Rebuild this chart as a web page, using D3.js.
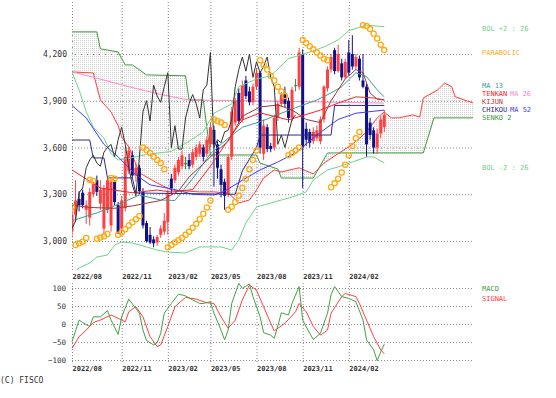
<!DOCTYPE html>
<html>
<head>
<meta charset="utf-8">
<script src="https://cdn.jsdelivr.net/npm/d3@7"></script>
<style>
  body { margin: 0; background: #fff; }
  svg { display: block; }
  text { font-family: "DejaVu Sans Mono", monospace; }
  .grid line { stroke: #888; stroke-dasharray: 1,2; }
</style>
</head>
<body>
<div id="chart"></div>
<script>
// ---- data (weekly, index 0 = first week of 2022/08) ----
const months = ['2022/08', '2022/11', '2023/02', '2023/05', '2023/08', '2023/11', '2024/02'];
const monthIdx = [0, 14, 27, 39, 52, 65, 78];
const priceTicks = [3000, 3300, 3600, 3900, 4200];
const macdTicks = [-100, -50, 0, 50, 100];

const open = [3060,3170,3270,3310,3200,3150,3300,3390,3240,3080,3200,3100,3380,3230,3080,3210,3450,3550,3420,3470,
  3315,3115,3040,3010,2990,3040,3060,3120,3400,3390,3440,3480,3500,3520,3490,3540,3560,3600,3560,3620,
  3713,3620,3460,3380,3300,3540,3760,3950,3780,4030,3960,3890,3990,4080,3560,3730,3610,3600,3790,3880,
  3950,3900,3790,4000,3990,4200,3720,3700,3640,3660,3640,3780,3980,4100,4225,4090,4140,4050,4210,4200,
  4120,4170,4030,3990,3760,3710,3600,3690,3730];
const high = [3240,3390,3320,3330,3260,3340,3380,3420,3390,3360,3410,3395,3390,3250,3290,3600,3610,3580,3500,3490,
  3340,3130,3090,3030,3040,3100,3180,3330,3430,3490,3540,3580,3540,3560,3590,3620,3640,3620,3670,3760,
  3740,3640,3490,3400,3560,3860,3920,3980,4030,4060,3990,4010,4110,4090,3780,3750,3630,3810,3900,3955,
  3990,3920,3990,4040,4240,4230,3760,3720,3730,3740,3800,4000,4120,4200,4240,4260,4170,4170,4290,4320,
  4200,4190,4200,4010,3790,3730,3720,3800,3840];
const low = [3020,3120,3190,3210,3110,3100,3280,3290,3200,3040,3180,3060,3230,3045,3050,3190,3430,3400,3380,3300,
  3080,2990,2980,2960,2970,3020,3040,3040,3300,3370,3420,3460,3460,3460,3470,3520,3540,3510,3540,3600,
  3350,3400,3280,3200,3280,3520,3740,3750,3760,3910,3870,3870,3970,3560,3520,3570,3570,3580,3770,3860,
  3860,3760,3770,3960,3970,3340,3610,3600,3620,3640,3620,3760,3960,4080,4070,4080,4030,4040,4060,4100,
  4100,4030,3980,3540,3650,3560,3560,3660,3700];
const close = [3170,3260,3230,3230,3230,3315,3370,3315,3330,3340,3390,3380,3250,3050,3260,3540,3580,3420,3470,3320,
  3100,3000,2990,2985,3025,3080,3130,3310,3340,3470,3520,3550,3500,3480,3570,3600,3620,3540,3650,3730,
  3620,3470,3360,3290,3540,3830,3900,3770,4000,3930,3890,3990,4080,3600,3740,3590,3590,3790,3880,3940,
  3880,3790,3970,4000,4210,3600,3650,3630,3700,3710,3780,3990,4100,4180,4090,4200,4050,4150,4080,4120,
  4180,4050,3990,3620,3680,3600,3690,3780,3810];

const parabolic = [3218,2974,2985,2995,3020,3392,3385,3015,3022,3030,3045,3405,3400,3040,3055,3075,3100,3120,3140,3160,
  3600,3584,3565,3540,3520,3500,3460,2960,2975,2990,3005,3020,3040,3060,3085,3110,3140,3175,3215,3260,
  3780,3770,3760,3745,3200,3220,3250,3290,3340,3400,3460,3520,3580,4160,4130,4100,4060,4030,3990,3960,
  3930,3550,3565,3580,3600,4290,4270,4250,4230,4210,4190,4170,4160,3345,3370,3400,3440,3490,3550,3610,
  3660,3700,4385,4380,4360,4330,4300,4260,4225];

// lines: [week index, value]
const bolUpper = [[0,4085],[2,3970],[4,3830],[6,3730],[9,3660],[11,3560],[13,3520],[16,3530],[21,3555],[28,3575],
  [33,3640],[37,3700],[40,3820],[45,3880],[47,3990],[52,4040],[56,4060],[61,4170],[66,4205],[71,4245],
  [75,4290],[78,4350],[83,4385],[88,4375]];
const bolLower = [[0,2790],[2,2827],[5,2859],[7,2897],[10,2910],[12,2974],[14,2994],[17,2987],[21,2962],[24,2942],
  [27,2929],[32,2923],[36,2962],[42,2962],[45,2942],[47,3006],[49,3116],[52,3218],[56,3244],[59,3263],
  [62,3282],[66,3315],[68,3392],[72,3456],[75,3475],[79,3507],[83,3539],[85,3540],[88,3500]];
const ma13 = [[0,3130],[7,3180],[14,3245],[19,3295],[25,3263],[29,3260],[34,3400],[39,3560],[44,3660],[48,3730],
  [53,3765],[59,3820],[63,3855],[69,3905],[73,3950],[76,3990],[80,4080],[83,4055],[86,3970],[88,3925]];
const ma26 = [[0,3870],[4,3790],[9,3620],[13,3540],[18,3425],[22,3360],[28,3335],[34,3300],[40,3295],[43,3320],
  [48,3390],[53,3456],[58,3507],[63,3565],[69,3680],[75,3780],[80,3820],[88,3840]];
const ma52 = [[0,4085],[7,4045],[16,3990],[25,3940],[33,3905],[50,3900],[63,3895],[88,3885]];
const tenkan = [[0,3456],[8,3340],[17,3310],[24,3327],[28,3314],[34,3330],[39,3480],[44,3648],[48,3777],[53,3822],
  [61,3777],[70,3840],[75,3885],[80,3925],[85,3918],[88,3905]];
const kijunLine = [[0,3230],[5,3215],[12,3210],[17,3225],[25,3260],[30,3320],[33,3411],[40,3560],[44,3640],[48,3800],
  [53,3860],[58,3873],[62,3841],[66,3780],[70,3760],[73,3900],[77,4040],[80,4100],[82,4080],[84,3950],[86,3910],[88,3905]];
const kijunStep = [[0,3648],[5,3648],[6,3533],[9,3533],[10,3405],[17,3405],[18,3308],[46,3300],[48,3450],[52,3600],
  [53,3680],[73,3680],[74,3870],[88,3870]];
const senko1 = [[0,4085],[6,4078],[8,3905],[11,3828],[13,3740],[14,3668],[16,3603],[19,3437],[24,3372],[28,3327],
  [36,3315],[40,3315],[44,3308],[47,3244],[50,3263],[52,3327],[54,3404],[57,3456],[59,3443],[64,3470],
  [68,3430],[71,3500],[75,3560],[79,3620],[83,3700],[86,3790],[88,3828],[90,3790],[92,3790],[96,3809],
  [98,3796],[99,3918],[103,3969],[105,4014],[107,3990],[108,3925],[113,3886]];
const senko2 = [[0,4342],[7,4342],[8,4233],[13,4213],[15,4130],[17,4130],[21,4066],[32,4060],[33,3905],[37,3905],
  [38,3730],[39,3552],[52,3552],[53,3500],[58,3462],[59,3404],[68,3404],[72,3565],[99,3565],[102,3790],[113,3790]];
const chikouShift = 25;

const macd = [[0,-49],[2,11],[3,4],[5,-7],[6,20],[8,20],[10,37],[11,11],[13,-29],[14,20],[16,69],[17,56],[19,30],
  [20,-17],[21,-46],[23,-58],[24,-52],[25,-26],[26,30],[28,57],[30,83],[32,78],[34,67],[36,57],[37,57],[39,62],
  [40,30],[42,-17],[43,-44],[44,-17],[45,57],[47,113],[48,99],[50,111],[51,76],[53,20],[54,-24],[56,-31],[57,-40],
  [58,-5],[59,31],[61,25],[62,57],[64,104],[65,11],[67,-26],[68,-43],[70,-26],[72,30],[73,81],[74,104],[76,76],
  [78,71],[80,62],[82,11],[83,-44],[85,-72],[86,-102],[87,-77],[88,-56]];
const signal = [[0,-68],[2,-35],[4,-17],[6,4],[8,11],[11,25],[13,16],[15,6],[16,34],[18,48],[20,20],[22,-35],
  [24,-63],[25,-58],[27,-7],[29,48],[32,74],[35,69],[38,59],[40,57],[42,20],[44,-12],[46,11],[48,67],[50,108],
  [52,94],[54,48],[56,2],[57,-19],[60,2],[63,34],[64,57],[66,34],[68,-7],[70,-31],[72,-17],[73,30],[76,76],
  [77,85],[80,76],[81,57],[83,11],[85,-35],[87,-72],[88,-83]];

// ---- layout ----
const W = 556, H = 398;
const svg = d3.select('#chart').append('svg').attr('width', W).attr('height', H);

const x = d3.scaleLinear().domain([0, 113]).range([72, 473]);
const y = d3.scaleLinear().domain([3000, 4200]).range([241, 54]);
const yM = d3.scaleLinear().domain([-100, 100]).range([360, 288]);

svg.append('clipPath').attr('id', 'clipMain')
  .append('rect').attr('x', 72).attr('y', 0).attr('width', 401).attr('height', 270);

// hatch for the cloud: thin dotted verticals
const pat = svg.append('defs').append('pattern')
  .attr('id', 'hatch').attr('patternUnits', 'userSpaceOnUse')
  .attr('width', 2).attr('height', 2);
pat.append('rect').attr('width', 1).attr('height', 1).attr('fill', '#d2d2d2');

// Grid: main
svg.append('g').attr('class', 'grid')
  .attr('transform', 'translate(72,0)')
  .call(d3.axisLeft(y).tickValues(priceTicks).tickSize(-401).tickFormat(''))
  .call(g => g.select('.domain').remove());
svg.append('g').attr('class', 'grid')
  .attr('transform', 'translate(0,270)')
  .call(d3.axisBottom(x).tickValues(monthIdx).tickSize(-268).tickFormat(''))
  .call(g => g.select('.domain').remove());

// Grid: MACD
svg.append('g').attr('class', 'grid')
  .attr('transform', 'translate(72,0)')
  .call(d3.axisLeft(yM).tickValues(macdTicks).tickSize(-401).tickFormat(''))
  .call(g => g.select('.domain').remove());
svg.append('g').attr('class', 'grid')
  .attr('transform', 'translate(0,362)')
  .call(d3.axisBottom(x).tickValues(monthIdx).tickSize(-80).tickFormat(''))
  .call(g => g.select('.domain').remove());

// Price labels
svg.append('g')
  .attr('transform', 'translate(67,0)')
  .call(d3.axisLeft(y).tickValues(priceTicks).tickSize(0).tickPadding(0).tickFormat(d3.format(',')))
  .call(g => g.select('.domain').remove())
  .selectAll('text').attr('font-size', 8).attr('fill', '#333').attr('font-family', '"DejaVu Sans Mono", monospace');

// MACD labels
svg.append('g')
  .attr('transform', 'translate(66,0)')
  .call(d3.axisLeft(yM).tickValues(macdTicks).tickSize(0).tickPadding(0))
  .call(g => g.select('.domain').remove())
  .selectAll('text').attr('font-size', 7.5).attr('fill', '#333').attr('font-family', '"DejaVu Sans Mono", monospace');

// Month labels (two rows)
[279, 371].forEach(yy => {
  svg.append('g')
    .attr('transform', `translate(0,${yy})`)
    .call(d3.axisBottom(x).tickValues(monthIdx).tickSize(0).tickPadding(0).tickFormat((d, i) => months[i]))
    .call(g => g.select('.domain').remove())
    .selectAll('text')
    .attr('y', 0).attr('dy', 0)
    .attr('text-anchor', 'start')
    .attr('font-size', 7).attr('font-weight', 'bold').attr('fill', '#333')
    .attr('font-family', '"DejaVu Sans Mono", monospace');
});

const main = svg.append('g').attr('clip-path', 'url(#clipMain)');

const line = d3.line().x(d => x(d[0])).y(d => y(d[1]));

// Cloud
const cloud = senko1.concat(senko2.slice().reverse());
main.append('path')
  .attr('d', line(cloud) + 'Z')
  .attr('fill', 'url(#hatch)')
  .attr('stroke', 'none');

function drawLine(data, color, width) {
  main.append('path')
    .attr('d', line(data))
    .attr('fill', 'none')
    .attr('stroke', color)
    .attr('stroke-width', width || 1);
}

drawLine(senko2, '#3c9a3c');
drawLine(senko1, '#ff3c3c');
drawLine(ma52, '#ff88cc');

// Candles
const idx = d3.range(close.length);
const candleColor = i => close[i] > open[i] ? '#ff4040' : (close[i] < open[i] ? '#101088' : '#3a8a3a');
main.selectAll('.wick')
  .data(idx)
  .join('line')
  .attr('x1', i => x(i)).attr('x2', i => x(i))
  .attr('y1', i => y(high[i])).attr('y2', i => y(low[i]))
  .attr('stroke', candleColor)
  .attr('stroke-width', 1);
main.selectAll('.body')
  .data(idx)
  .join('rect')
  .attr('x', i => x(i) - 1.5)
  .attr('width', 3)
  .attr('y', i => y(Math.max(open[i], close[i])))
  .attr('height', i => Math.max(1, Math.abs(y(open[i]) - y(close[i]))))
  .attr('fill', candleColor);

drawLine(bolUpper, '#6fd28c');
drawLine(bolLower, '#6fd28c');
drawLine(ma26, '#3c3cff');
drawLine(ma13, '#3a9c9c');
drawLine(kijunStep, '#2c2c8c');
drawLine(kijunLine, '#9c3a3a');
drawLine(tenkan, '#ff2020');

// Chikou: close shifted back
const chikou = close.slice(chikouShift).map((c, i) => [i, c]);
drawLine(chikou, '#333333');

// Parabolic
main.selectAll('.sar')
  .data(idx)
  .join('circle')
  .attr('cx', i => x(i))
  .attr('cy', i => y(parabolic[i]))
  .attr('r', 2.6)
  .attr('fill', 'none')
  .attr('stroke', '#ffaa11')
  .attr('stroke-width', 1.3);

// MACD panel
const lineM = d3.line().x(d => x(d[0])).y(d => yM(d[1]));
svg.append('path').attr('d', lineM(signal)).attr('fill', 'none').attr('stroke', '#ff4040').attr('stroke-width', 1);
svg.append('path').attr('d', lineM(macd)).attr('fill', 'none').attr('stroke', '#44a044').attr('stroke-width', 1);

// Legend texts (indicator cluster kept on separate rows)
const legend = [
  { t: 'BOL +2 : 26', c: '#6fd28c', x: 482, y: 31 },
  { t: 'PARABOLIC', c: '#ffaa22', x: 482, y: 55 },
  { t: 'MA 13', c: '#3a9c9c', x: 482, y: 88 },
  { t: 'TENKAN', c: '#ff2020', x: 482, y: 96 },
  { t: 'MA 26', c: '#ff88cc', x: 510, y: 96 },
  { t: 'KIJUN', c: '#cc3030', x: 482, y: 104 },
  { t: 'CHIKOU', c: '#2c2c8c', x: 482, y: 112 },
  { t: 'MA 52', c: '#3c3cff', x: 510, y: 112 },
  { t: 'SENKO 2', c: '#3c9a3c', x: 482, y: 120 },
  { t: 'BOL -2 : 26', c: '#6fd28c', x: 482, y: 170 },
  { t: 'MACD', c: '#44a044', x: 482, y: 291 },
  { t: 'SIGNAL', c: '#ff4040', x: 482, y: 301 },
];
svg.append('g').selectAll('text')
  .data(legend)
  .join('text')
  .attr('x', d => d.x).attr('y', d => d.y)
  .attr('font-size', 7)
  .attr('fill', d => d.c)
  .text(d => d.t);

svg.append('text')
  .attr('x', 0).attr('y', 383)
  .attr('font-size', 8).attr('fill', '#333')
  .text('(C) FISCO');
</script>
</body>
</html>
